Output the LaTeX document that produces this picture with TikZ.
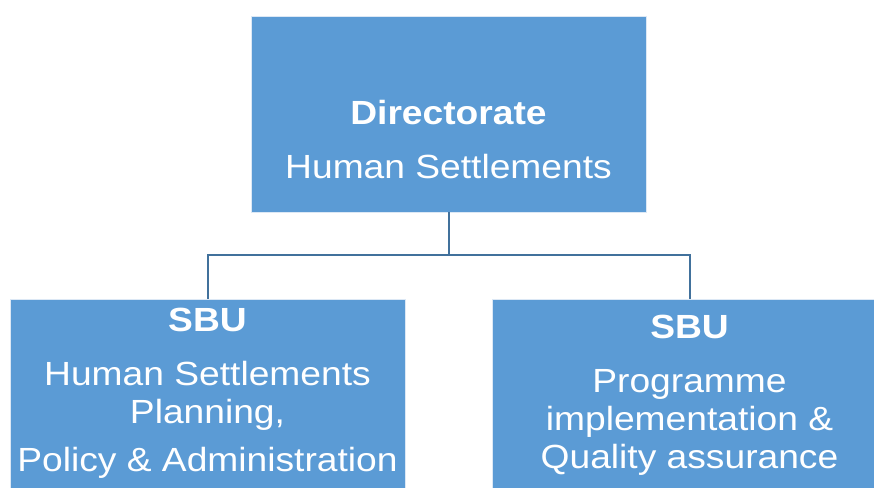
\documentclass[tikz,border=0pt]{standalone}
\usepackage{fontspec}
\setmainfont{Liberation Sans}[FakeStretch=1.11]
\usepackage{xcolor}
\usepackage{tikz}
\usetikzlibrary{positioning}
\definecolor{unitblue}{RGB}{91,155,213}
\definecolor{lineblue}{RGB}{65,113,156}
\definecolor{edgeblue}{RGB}{220,232,245}
\tikzset{
  unitbox/.style={draw=edgeblue, line width=0.8pt, fill=unitblue,
                  minimum width=395pt, minimum height=196pt, inner sep=0pt},
  unittxt/.style={text=white, align=center, inner sep=0pt,
                  font=\fontsize{33.5}{38}\selectfont},
  conn/.style   ={draw=lineblue, line width=2pt},
}
\begin{document}
\begin{tikzpicture}[x=1pt, y=1pt]
  \useasboundingbox (0,0) rectangle (874,-487);

  \node[unitbox] (dir)  at (448.5,-114) {};
  \node[unitbox] (plan) at (207.5,-397) {};
  \node[unitbox] (prog) at (689.5,-397) {};

  \node[unittxt, below=84pt of dir.north] (dirtxt)
        {\textbf{Directorate}\\[16pt]Human Settlements};
  \node[unittxt, below=9pt of plan.north] (plantxt)
        {\textbf{SBU}\\[16pt]Human Settlements\\Planning,\\[10pt]
         Policy \& Administration};
  \node[unittxt, below=16pt of prog.north] (progtxt)
        {\textbf{SBU}\\[16pt]Programme\\implementation \&\\Quality assurance};

  \draw[conn] (dir.south) -- ++(0,-43) -| (plan.north);
  \draw[conn] (dir.south) -- ++(0,-43) -| (prog.north);
\end{tikzpicture}
\end{document}
